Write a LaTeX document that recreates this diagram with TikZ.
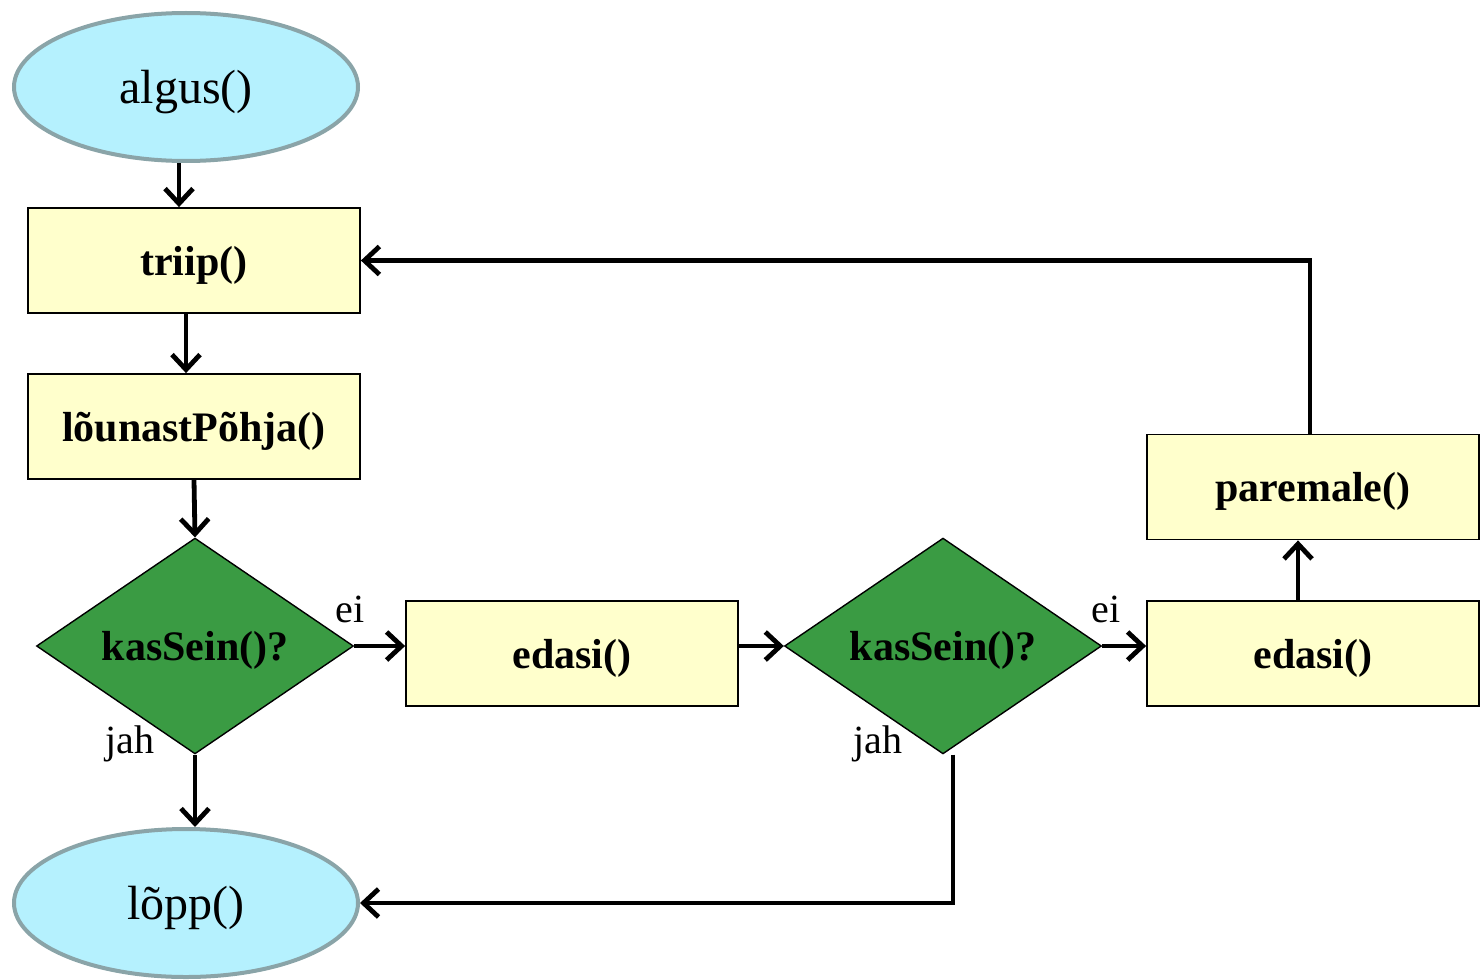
\documentclass[tikz,border=0pt]{standalone}
\usepackage{fontspec}
\setmainfont{Liberation Serif}
\usetikzlibrary{shapes.geometric,arrows.meta}
\definecolor{ovalfill}{HTML}{B5F1FE}
\definecolor{ovalline}{HTML}{8AA4A8}
\definecolor{boxfill}{HTML}{FFFFCC}
\definecolor{decfill}{HTML}{3A9B43}
\tikzset{
  oval/.style={ellipse, draw=ovalline, fill=ovalfill, line width=2pt, inner sep=0pt,
    text depth=0pt, minimum width=172pt, minimum height=74pt, font=\fontsize{24}{28}\selectfont},
  procbox/.style={rectangle, draw=black, fill=boxfill, line width=0.9pt, inner sep=0pt,
    text depth=0pt, minimum width=166pt, minimum height=52.5pt, font=\fontsize{21}{25}\selectfont\bfseries},
  decision/.style={diamond, draw=black, fill=decfill, line width=0.7pt, inner sep=0pt,
    text depth=0pt, minimum width=158.5pt, minimum height=105pt, font=\fontsize{21}{25}\selectfont\bfseries},
  lbl/.style={font=\fontsize{20}{24}\selectfont, inner sep=0pt},
  arr/.style={line width=2.4pt, -{Straight Barb[length=7.5pt,width=14pt,line width=2.4pt]}},
}
\begin{document}
\begin{tikzpicture}[x=0.5pt,y=-0.5pt]
\useasboundingbox (0,0) rectangle (1481,979);
\node[oval] (algus) at (186,87) {algus()};
\node[procbox] (triip) at (194,260.5) {triip()};
\node[procbox] (louna) at (194,426.5) {lõunastPõhja()};
\node[decision] (d1) at (195,646) {kasSein()?};
\node[procbox] (ed1) at (572,653.5) {edasi()};
\node[decision] (d2) at (943,646) {kasSein()?};
\node[procbox] (ed2) at (1313,653.5) {edasi()};
\node[procbox] (par) at (1313,487) {paremale()};
\node[oval] (lopp) at (186,903) {lõpp()};
\node[lbl] (ei1) at (350,609) {ei};
\node[lbl] (ei2) at (1106,609) {ei};
\node[lbl] (jah1) at (130,744) {jah};
\node[lbl] (jah2) at (878,744) {jah};
\draw[arr] ([xshift=-3.5pt]algus.south) -- ([xshift=-7.5pt]triip.north);
\draw[arr] ([xshift=-4pt]triip.south) -- ([xshift=-4pt]louna.north);
\draw[arr] (louna.south) -- (d1.north);
\draw[arr] (d1.east) -- (d1.east -| ed1.west);
\draw[arr] (ed1.east |- d2.west) -- (d2.west);
\draw[arr] (d2.east) -- (d2.east -| ed2.west);
\draw[arr] ([xshift=-7.5pt]ed2.north) -- ([xshift=-7.5pt]par.south);
\draw[arr] ([xshift=-1.5pt]par.north) |- (triip.east);
\draw[arr] (d1.south) -- (lopp.north -| d1.south);
\draw[arr] ([xshift=5pt]d2.south) |- (lopp.east);
\end{tikzpicture}
\end{document}
